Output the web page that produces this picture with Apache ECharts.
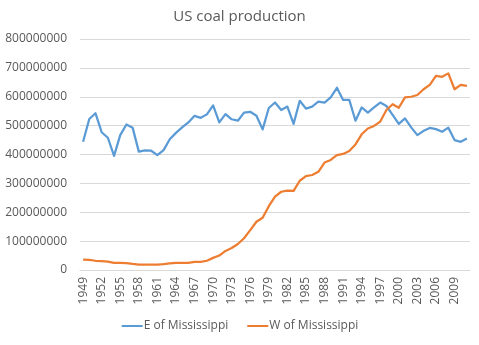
<!DOCTYPE html>
<html>
<head>
<meta charset="utf-8">
<script src="https://cdn.jsdelivr.net/npm/echarts@6/dist/echarts.min.js"></script>
<style>
  html, body { margin: 0; padding: 0; background: #fff; }
  #chart { width: 479px; height: 345px; }
</style>
</head>
<body>
<div id="chart"></div>
<script>
// Annual coal production, short tons, split by region
const years = [];
for (let y = 1949; y <= 2011; y++) years.push(String(y));

const eastOfMississippi = [
  444e6, 523e6, 543e6, 477e6, 458e6, 395e6, 467e6, 504e6, 493e6, 410e6,
  414e6, 413e6, 398e6, 415e6, 453e6, 475e6, 494e6, 511e6, 534e6, 527e6,
  539e6, 570e6, 511e6, 540e6, 522e6, 517e6, 545e6, 548e6, 534e6, 487e6,
  561e6, 580e6, 554e6, 566e6, 506e6, 586e6, 559e6, 566e6, 583e6, 580e6,
  598e6, 631e6, 589e6, 589e6, 517e6, 563e6, 545e6, 563e6, 580e6, 568e6,
  537e6, 506e6, 525e6, 494e6, 467e6, 482e6, 492e6, 488e6, 479e6, 493e6,
  450e6, 444e6, 455e6
];

const westOfMississippi = [
  36e6, 35e6, 32e6, 31e6, 29e6, 25e6, 25e6, 24e6, 21e6, 19e6,
  19e6, 19e6, 19e6, 20e6, 23e6, 25e6, 25e6, 25e6, 28e6, 28e6,
  32e6, 42e6, 50e6, 66e6, 76e6, 90e6, 110e6, 138e6, 167e6, 181e6,
  221e6, 254e6, 271e6, 275e6, 274e6, 309e6, 325e6, 329e6, 340e6, 372e6,
  381e6, 398e6, 402e6, 412e6, 435e6, 470e6, 490e6, 499e6, 514e6, 554e6,
  574e6, 562e6, 598e6, 600e6, 606e6, 626e6, 641e6, 672e6, 669e6, 681e6,
  626e6, 641e6, 638e6
];

const textColor = '#595959';
const gridColor = '#D9D9D9';
const font = 'Open Sans';

const chart = echarts.init(document.getElementById('chart'), null, { renderer: 'canvas' });
chart.setOption({
  animation: false,
  title: {
    text: 'US coal production',
    left: 'center',
    top: 4,
    textStyle: { color: textColor, fontFamily: font, fontSize: 15, fontWeight: 'normal' }
  },
  legend: {
    bottom: 8,
    left: 'center',
    itemWidth: 21,
    itemHeight: 2,
    itemGap: 18,
    textStyle: { color: textColor, fontFamily: font, fontSize: 12, padding: [0, 0, 0, -4] },
    data: ['E of Mississippi', 'W of Mississippi']
  },
  grid: { left: 80, right: 9, top: 39, bottom: 75 },
  xAxis: {
    type: 'category',
    data: years,
    boundaryGap: true,
    axisLine: { lineStyle: { color: gridColor } },
    axisTick: { show: false },
    axisLabel: {
      rotate: 90,
      interval: 2,
      color: textColor,
      fontFamily: font,
      fontSize: 12,
      margin: 7
    }
  },
  yAxis: {
    type: 'value',
    min: 0,
    max: 800000000,
    interval: 100000000,
    axisLine: { show: false },
    axisTick: { show: false },
    splitLine: { lineStyle: { color: gridColor } },
    axisLabel: {
      color: textColor,
      fontFamily: font,
      fontSize: 12,
      margin: 13,
      formatter: (v) => String(v)
    }
  },
  series: [
    {
      name: 'E of Mississippi',
      type: 'line',
      data: eastOfMississippi,
      symbol: 'none',
      lineStyle: { color: '#5B9BD5', width: 2.25, join: 'round' },
      itemStyle: { color: '#5B9BD5' }
    },
    {
      name: 'W of Mississippi',
      type: 'line',
      data: westOfMississippi,
      symbol: 'none',
      lineStyle: { color: '#ED7D31', width: 2.25, join: 'round' },
      itemStyle: { color: '#ED7D31' }
    }
  ]
});
</script>
</body>
</html>
